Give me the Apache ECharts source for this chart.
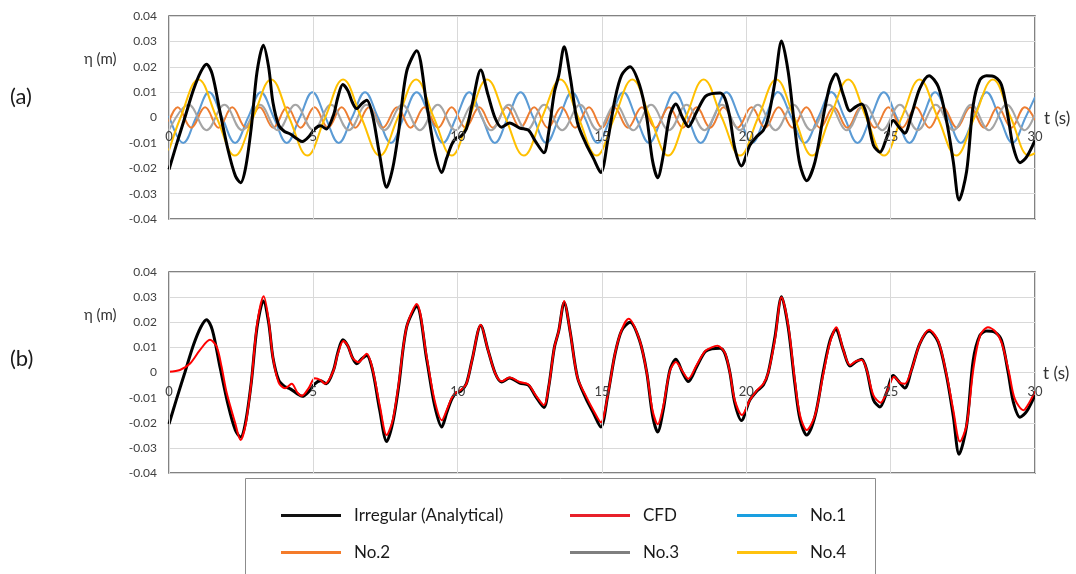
<!DOCTYPE html>
<html><head><meta charset="utf-8">
<script src="https://cdn.jsdelivr.net/npm/echarts@6/dist/echarts.min.js"></script>
<style>html,body{margin:0;padding:0;background:#fff}#c{width:1076px;height:574px}</style>
</head><body><div id="c"></div>
<script>
// ---- data: [t (s), eta (m)] ----
const irregular = [[0,-0.0205],[0.25,-0.011],[0.55,0.0],[0.85,0.011],[1.1,0.018],[1.3,0.021],[1.5,0.017],[1.77,0.002],[2.05,-0.013],[2.3,-0.023],[2.48,-0.0257],[2.65,-0.02],[2.85,-0.004],[3.05,0.018],[3.27,0.0285],[3.45,0.02],[3.6,0.006],[3.8,-0.003],[4.0,-0.0055],[4.2,-0.0065],[4.45,-0.0085],[4.62,-0.0095],[4.85,-0.0075],[5.05,-0.0045],[5.25,-0.0033],[5.45,-0.0045],[5.7,0.001],[5.85,0.008],[6.02,0.013],[6.2,0.0105],[6.35,0.006],[6.5,0.0035],[6.68,0.0055],[6.85,0.0068],[7.05,0.001],[7.3,-0.015],[7.54,-0.0275],[7.75,-0.02],[7.95,-0.006],[8.23,0.018],[8.58,0.0263],[8.93,0.005],[9.2,-0.013],[9.45,-0.0217],[9.62,-0.016],[9.8,-0.0105],[9.95,-0.008],[10.1,-0.0075],[10.3,-0.0045],[10.5,0.005],[10.8,0.0187],[11.05,0.009],[11.3,-0.0003],[11.52,-0.0038],[11.8,-0.0022],[12.15,-0.0042],[12.45,-0.005],[12.7,-0.0095],[12.99,-0.0139],[13.15,-0.006],[13.35,0.01],[13.5,0.0165],[13.69,0.0279],[13.9,0.016],[14.15,-0.002],[14.45,-0.0105],[14.7,-0.016],[14.96,-0.0217],[15.2,-0.009],[15.45,0.0073],[15.68,0.0167],[15.97,0.020],[16.3,0.0128],[16.55,0.0],[16.75,-0.017],[16.93,-0.0237],[17.12,-0.015],[17.35,0.0009],[17.56,0.0053],[17.79,0.0],[17.99,-0.0036],[18.28,0.0023],[18.57,0.0082],[18.8,0.0094],[19.09,0.0097],[19.26,0.0075],[19.43,0.0],[19.6,-0.0121],[19.83,-0.0191],[20.12,-0.011],[20.36,-0.0075],[20.59,-0.005],[20.76,0.0],[20.99,0.014],[21.22,0.0301],[21.45,0.018],[21.68,-0.0043],[21.86,-0.0187],[22.09,-0.0249],[22.38,-0.0174],[22.66,0.0],[22.9,0.0128],[23.1,0.0171],[23.36,0.0089],[23.59,0.0026],[23.8,0.0043],[24.0,0.0053],[24.17,0.001],[24.4,-0.0108],[24.63,-0.0137],[24.86,-0.008],[25.09,-0.0012],[25.32,-0.0042],[25.49,-0.0062],[25.72,0.001],[26.01,0.0115],[26.33,0.0165],[26.65,0.0121],[26.94,-0.0016],[27.17,-0.0174],[27.37,-0.0325],[27.63,-0.0213],[27.86,0.0049],[28.09,0.0148],[28.32,0.0165],[28.61,0.016],[28.84,0.0128],[29.07,0.0],[29.25,-0.0118],[29.48,-0.0178],[29.71,-0.0155],[30,-0.009]];

const cfd = [[0,0.0003],[0.38,0.001],[0.73,0.0036],[1.07,0.0089],[1.42,0.013],[1.65,0.0103],[1.82,0.0024],[2.0,-0.0082],[2.29,-0.02],[2.48,-0.0269],[2.65,-0.021],[2.85,-0.004],[3.05,0.019],[3.28,0.0303],[3.45,0.021],[3.6,0.006],[3.8,-0.004],[4.02,-0.0063],[4.25,-0.0045],[4.45,-0.008],[4.6,-0.0093],[4.85,-0.006],[5.05,-0.0023],[5.25,-0.003],[5.4,-0.0045],[5.69,0.0005],[5.85,0.0075],[6.04,0.0125],[6.2,0.0105],[6.35,0.006],[6.56,0.0041],[6.85,0.0075],[7.05,0.0015],[7.3,-0.013],[7.54,-0.0249],[7.75,-0.019],[7.95,-0.005],[8.23,0.018],[8.58,0.0273],[8.93,0.006],[9.2,-0.011],[9.45,-0.019],[9.62,-0.015],[9.8,-0.01],[9.95,-0.008],[10.1,-0.007],[10.3,-0.0045],[10.5,0.005],[10.8,0.019],[11.05,0.009],[11.3,-0.0003],[11.52,-0.0035],[11.8,-0.002],[12.15,-0.0038],[12.45,-0.0048],[12.7,-0.009],[12.99,-0.013],[13.15,-0.006],[13.35,0.01],[13.5,0.0165],[13.69,0.0285],[13.9,0.016],[14.15,-0.002],[14.45,-0.0095],[14.7,-0.015],[14.96,-0.0198],[15.2,-0.009],[15.45,0.0075],[15.68,0.017],[15.92,0.0214],[16.3,0.013],[16.55,0.0],[16.75,-0.015],[16.93,-0.0206],[17.12,-0.0135],[17.35,0.0005],[17.56,0.0042],[17.79,0.0005],[17.99,-0.0025],[18.28,0.003],[18.57,0.0085],[18.8,0.0100],[19.0,0.0106],[19.26,0.0078],[19.43,0.0],[19.6,-0.011],[19.85,-0.0169],[20.12,-0.011],[20.36,-0.0072],[20.59,-0.0045],[20.76,0.0],[20.99,0.013],[21.22,0.0300],[21.45,0.019],[21.68,-0.003],[21.86,-0.017],[22.09,-0.0229],[22.38,-0.017],[22.66,-0.001],[22.9,0.012],[23.12,0.018],[23.36,0.009],[23.59,0.003],[23.8,0.0045],[24.0,0.005],[24.17,0.001],[24.4,-0.009],[24.65,-0.012],[24.86,-0.008],[25.12,-0.0017],[25.32,-0.004],[25.49,-0.0045],[25.72,0.001],[26.01,0.0115],[26.33,0.017],[26.65,0.0125],[26.94,-0.001],[27.17,-0.015],[27.4,-0.0275],[27.63,-0.021],[27.86,0.001],[28.09,0.0145],[28.37,0.018],[28.61,0.0165],[28.84,0.012],[29.1,0.0],[29.3,-0.0105],[29.6,-0.015],[29.8,-0.012],[30,-0.0075]];

const no1 = [[0,0.0007],[0.49,-0.01],[0.94,0],[1.39,0.01],[1.84,0],[2.29,-0.01],[2.74,0],[3.18,0.01],[3.63,0],[4.08,-0.01],[4.53,0],[4.97,0.01],[5.42,0],[5.88,-0.01],[6.34,0],[6.79,0.01],[7.24,0],[7.69,-0.01],[8.13,0],[8.58,0.01],[9.04,0],[9.49,-0.01],[9.95,0],[10.40,0.01],[10.84,0],[11.29,-0.01],[11.74,0],[12.18,0.01],[12.62,0],[13.07,-0.01],[13.52,0],[13.96,0.01],[14.40,0],[14.85,-0.01],[15.30,0],[15.74,0.01],[16.18,0],[16.63,-0.01],[17.08,0],[17.52,0.01],[17.97,0],[18.42,-0.01],[18.87,0],[19.31,0.01],[19.76,0],[20.20,-0.01],[20.65,0],[21.10,0.01],[21.56,0],[22.02,-0.01],[22.49,0],[22.95,0.01],[23.40,0],[23.85,-0.01],[24.31,0],[24.76,0.01],[25.21,0],[25.65,-0.01],[26.10,0],[26.54,0.01],[26.99,0],[27.43,-0.01],[27.88,0],[28.32,0.01],[28.77,0],[29.22,-0.01],[29.67,0],[30,0.008]];

const no2 = [[0,-0.0016],[0.30,0.004],[0.77,-0.004],[1.25,0.004],[1.72,-0.004],[2.19,0.004],[2.66,-0.004],[3.14,0.004],[3.61,-0.004],[4.09,0.004],[4.56,-0.004],[5.04,0.004],[5.51,-0.004],[5.98,0.004],[6.45,-0.004],[6.93,0.004],[7.41,-0.004],[7.90,0.004],[8.37,-0.004],[8.85,0.004],[9.32,-0.004],[9.79,0.004],[10.27,-0.004],[10.75,0.004],[11.22,-0.004],[11.70,0.004],[12.17,-0.004],[12.65,0.004],[13.12,-0.004],[13.60,0.004],[14.07,-0.004],[14.55,0.004],[15.0,-0.004],[15.42,0.004],[15.90,-0.004],[16.38,0.004],[16.85,-0.004],[17.32,0.004],[17.80,-0.004],[18.28,0.004],[18.75,-0.004],[19.21,0.004],[19.70,-0.004],[20.18,0.004],[20.65,-0.004],[21.12,0.004],[21.60,-0.004],[22.08,0.004],[22.55,-0.004],[23.03,0.004],[23.50,-0.004],[23.97,0.004],[24.45,-0.004],[24.92,0.004],[25.40,-0.004],[25.87,0.004],[26.34,-0.004],[26.81,0.004],[27.29,-0.004],[27.76,0.004],[28.24,-0.004],[28.71,0.004],[29.18,-0.004],[29.65,0.004],[30,-0.001]];

const no3 = [[0,-0.005],[0.68,0.005],[1.30,-0.005],[1.92,0.005],[2.53,-0.005],[3.15,0.005],[3.77,-0.005],[4.38,0.005],[5.00,-0.005],[5.61,0.005],[6.23,-0.005],[6.84,0.005],[7.46,-0.005],[8.08,0.005],[8.69,-0.005],[9.31,0.005],[9.92,-0.005],[10.54,0.005],[11.16,-0.005],[11.77,0.005],[12.39,-0.005],[13.00,0.005],[13.62,-0.005],[14.24,0.005],[14.85,-0.005],[15.47,0.005],[16.08,-0.005],[16.70,0.005],[17.32,-0.005],[17.93,0.005],[18.55,-0.005],[19.16,0.005],[19.78,-0.005],[20.40,0.005],[21.01,-0.005],[21.63,0.005],[22.24,-0.005],[22.86,0.005],[23.48,-0.005],[24.09,0.005],[24.71,-0.005],[25.32,0.005],[25.94,-0.005],[26.56,0.005],[27.17,-0.005],[27.79,0.005],[28.40,-0.005],[29.02,0.005],[29.64,-0.005],[30,0.0013]];

const no4 = [[0,-0.013],[0.40,0],[1.02,0.015],[1.65,0],[2.28,-0.015],[2.91,0],[3.54,0.015],[4.16,0],[4.79,-0.015],[5.41,0],[6.03,0.015],[6.66,0],[7.30,-0.015],[7.93,0],[8.56,0.015],[9.17,0],[9.79,-0.015],[10.40,0],[11.02,0.015],[11.65,0],[12.29,-0.015],[12.92,0],[13.56,0.015],[14.18,0],[14.81,-0.015],[15.43,0],[16.05,0.015],[16.67,0],[17.29,-0.015],[17.90,0],[18.52,0.015],[19.15,0],[19.78,-0.015],[20.41,0],[21.04,0.015],[21.66,0],[22.28,-0.015],[22.90,0],[23.53,0.015],[24.15,0],[24.77,-0.015],[25.38,0],[26.0,0.015],[26.63,0],[27.27,-0.015],[27.90,0],[28.54,0.015],[29.16,0],[29.79,-0.015],[30,-0.014]];

const xTicks = {min: 0, max: 30, interval: 5};
const yTicks = {min: -0.04, max: 0.04, interval: 0.01};
const legendRows = [['Irregular (Analytical)', 'No.2'], ['CFD', 'No.3'], ['No.1', 'No.4']];

const FONT = 'Lato, "Open Sans", sans-serif';
const chart = echarts.init(document.getElementById('c'), null, {renderer: 'canvas'});

// x axis labels drawn along the zero line of each panel (half the plot height above the bottom edge)
const gridDefs = [{top: 16, height: 203}, {top: 272, height: 201}];
function xAx(gi) {
  return {
    type: 'value', gridIndex: gi, min: xTicks.min, max: xTicks.max, interval: xTicks.interval,
    position: 'bottom', offset: -gridDefs[gi].height / 2, z: 10,
    axisLine: {show: false, onZero: false},
    axisTick: {show: false},
    axisLabel: {color: '#404040', fontSize: 13, fontFamily: FONT, margin: 13},
    splitLine: {show: true, lineStyle: {color: '#d9d9d9', width: 1}}
  };
}
function yAx(gi) {
  return {
    type: 'value', gridIndex: gi, min: yTicks.min, max: yTicks.max, interval: yTicks.interval,
    axisLine: {show: false, onZero: false}, axisTick: {show: false},
    axisLabel: {color: '#404040', fontSize: 12, fontFamily: FONT, margin: 12,
      formatter: v => (Math.abs(v) < 1e-9 ? '0' : v.toFixed(2))},
    splitLine: {show: true, lineStyle: {color: '#d9d9d9', width: 1}}
  };
}
function line(name, data, color, width, gi, smooth, z) {
  return {name, type: 'line', data, xAxisIndex: gi, yAxisIndex: gi, showSymbol: false, symbol: 'none',
    smooth, lineStyle: {color, width}, itemStyle: {color}, z, animation: false};
}
const legendColors = {'Irregular (Analytical)': '#111111', 'CFD': '#e8202a', 'No.1': '#1a9fe0', 'No.2': '#f47b2a', 'No.3': '#7f7f7f', 'No.4': '#ffc20e'};
const legendLeft = [276, 565, 732];

chart.setOption({
  animation: false,
  grid: gridDefs.map(g => ({left: 169, top: g.top, width: 866, height: g.height, show: true,
    borderColor: '#595959', borderWidth: 1.5, backgroundColor: 'transparent'})),
  xAxis: [xAx(0), xAx(1)],
  yAxis: [yAx(0), yAx(1)],
  legend: legendRows.map((names, i) => ({
    left: legendLeft[i], top: 500, orient: 'vertical', itemGap: 16, itemWidth: 60, itemHeight: 3,
    icon: 'rect', selectedMode: false,
    textStyle: {fontSize: 17, fontFamily: FONT, color: '#1a1a1a', lineHeight: 21, padding: [0, 0, 0, 8]},
    data: names.map(n => ({name: n, itemStyle: {color: legendColors[n]}}))
  })),
  graphic: [
    {type: 'rect', shape: {x: 245.5, y: 478.5, width: 630, height: 120}, style: {fill: 'none', stroke: '#8c8c8c', lineWidth: 1}},
    {type: 'text', left: 10, top: 86, style: {text: '(a)', font: '22px ' + FONT, fill: '#1a1a1a'}},
    {type: 'text', left: 10, top: 348, style: {text: '(b)', font: '22px ' + FONT, fill: '#1a1a1a'}},
    {type: 'text', left: 84, top: 52, style: {text: 'η (m)', font: '15px ' + FONT, fill: '#333'}},
    {type: 'text', left: 84, top: 308, style: {text: 'η (m)', font: '15px ' + FONT, fill: '#333'}},
    {type: 'text', left: 1044, top: 110, style: {text: 't (s)', font: '17px ' + FONT, fill: '#333'}},
    {type: 'text', left: 1043, top: 365, style: {text: 't (s)', font: '17px ' + FONT, fill: '#333'}}
  ],
  series: [
    line('No.1', no1, '#5b9bd5', 2, 0, 0.4, 2),
    line('No.2', no2, '#ed7d31', 2, 0, 0.4, 2),
    line('No.3', no3, '#a5a5a5', 2, 0, 0.4, 2),
    line('No.4', no4, '#ffc000', 2, 0, 0.4, 2),
    line('Irregular (Analytical)', irregular, '#000000', 3, 0, 0.3, 3),
    line('Irregular (Analytical)', irregular, '#000000', 3, 1, 0.3, 3),
    line('CFD', cfd, '#ff0000', 2, 1, 0.3, 4)
  ]
});
</script>
</body></html>
